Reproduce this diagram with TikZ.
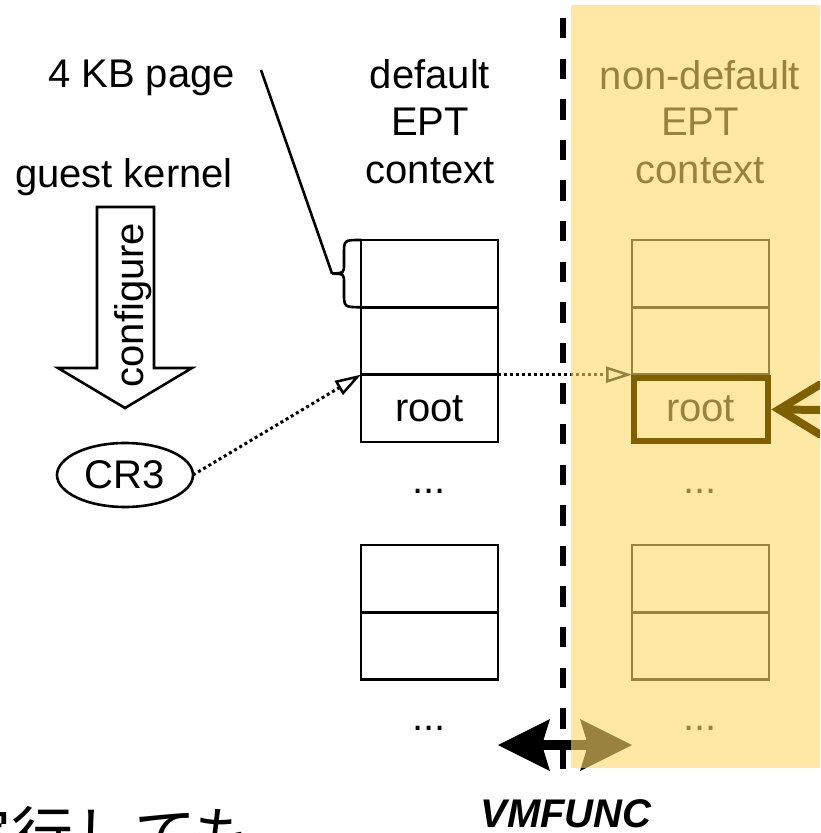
\documentclass[tikz,border=0pt]{standalone}
\usepackage{fontspec}
\setmainfont{Liberation Sans}
\newfontfamily\jpfont{Noto Sans CJK JP}
\usetikzlibrary{arrows.meta,shapes.geometric,calc}
\definecolor{ovl}{HTML}{FFD966}
\definecolor{darkgold}{HTML}{7F6000}

\begin{document}
\begin{tikzpicture}[x=1pt,y=-1pt,
  every node/.style={inner sep=0pt, outer sep=0pt, font=\fontsize{40pt}{47pt}\selectfont},
  cell/.style={draw, line width=2.6pt, minimum width=137pt, minimum height=67.3pt},
  plain/.style={line width=2.6pt},
  dotline/.style={line width=3pt, dash pattern=on 3pt off 3pt},
  tri/.style={-{Triangle[open, length=26pt, width=16pt, line width=2.5pt]}},
  vmarrow/.style={line width=10pt,
    {Stealth[length=52pt, width=52pt, inset=8pt, line width=0pt]}-{Stealth[length=52pt, width=52pt, inset=8pt, line width=0pt]}},
  sep/.style={line width=6.5pt, dash pattern=on 20.3pt off 20.3pt},
  pick/.style={draw=darkgold, line width=6pt},
  pickarrow/.style={darkgold, line width=8pt, line cap=round, line join=miter}]

\useasboundingbox (0,0) rectangle (820,833);
\clip (0,0) rectangle (820,833);

% labels on the left
\node[anchor=base west] (kb) at (48,87) {4 KB page};
\node[anchor=base west] (gk) at (15,187) {guest kernel};

% default EPT context column
\node[anchor=base] (dl1) at (430,88) {default};
\node[anchor=base] (dl2) at (430,135) {EPT};
\node[anchor=base] (dl3) at (430,183) {context};
\node[cell] (d1) at (429.5,273.65) {};
\node[cell] (d2) at (429.5,340.95) {};
\node[cell] (d3) at (429.5,408.3) {root};
\node[anchor=base] (dd1) at (429,493) {...};
\node[cell] (d4) at (429.5,578.65) {};
\node[cell] (d5) at (429.5,645.95) {};
\node[anchor=base] (dd2) at (429,730) {...};

% non-default EPT context column
\node[anchor=base] (nl1) at (700,89) {non-default};
\node[anchor=base] (nl2) at (700,135) {EPT};
\node[anchor=base] (nl3) at (700,183) {context};
\node[cell] (n1) at (700.5,273.65) {};
\node[cell] (n2) at (700.5,340.95) {};
\node[cell] (n3) at (700.5,408.3) {root};
\node[anchor=base] (nd1) at (700,493) {...};
\node[cell] (n4) at (700.5,578.65) {};
\node[cell] (n5) at (700.5,645.95) {};
\node[anchor=base] (nd2) at (700,730) {...};

% brace marking one 4 KB page, with its leader line
\coordinate (kbend) at (261,70);
\coordinate (btip) at (332,273.5);
\draw[plain] (d1.north west) .. controls (344,240) .. (344,254) -- (344,264)
  .. controls (344,273) .. (btip) .. controls (344,274) .. (344,283) -- (344,293)
  .. controls (344,307) .. (d1.south west);
\draw[plain] (kbend) -- (btip);

% configure block arrow and CR3
\draw[plain, fill=white, line join=miter] (97,207) -- (154,207) -- (154,368) -- (192,368)
  -- (125,408) -- (58,368) -- (97,368) -- cycle;
\node[rotate=90] (cfg) at (133,305) {configure};
\node[ellipse, draw, line width=2.6pt, minimum width=136pt, minimum height=64pt] (cr3) at (125,475) {\raisebox{-1.5pt}{CR3}};

% pointers to the root table
\draw[dotline, tri] (cr3.east) -- (d3.north west);
\draw[dotline, tri] (d3.north east) -- (n3.north west);

% VMFUNC switch and the separating line
\coordinate (vl) at (498,745);
\coordinate (vr) at (632,745);
\draw[vmarrow] (vl) -- (vr);
\coordinate (dtop) at (563,18);
\coordinate (dbot) at (563,776);
\draw[sep] (dtop) -- (dbot);
\node[anchor=base, font=\fontsize{40pt}{47pt}\selectfont\bfseries\itshape] (vmf) at (566,827) {VMFUNC};

% translucent highlight over the non-default context
\fill[ovl, opacity=0.6] (571,5) rectangle (825,768);

% active root table of the non-default context
\node[pick, minimum width=134pt, minimum height=63pt] (nroot) at (701,409.5) {};
\coordinate (rin) at (824,410);
\draw[pickarrow] (rin) -- ($(nroot.east)+(11,0)$);
\draw[pickarrow] ($(nroot.east)+(52,-25)$) -- ($(nroot.east)+(11,0)$) -- ($(nroot.east)+(52,25)$);

% caption text below, running off the lower edge
\node[anchor=base west, font=\jpfont\fontsize{62pt}{70pt}\selectfont] (jp) at (-50,858) {実行しても};

\end{tikzpicture}
\end{document}
